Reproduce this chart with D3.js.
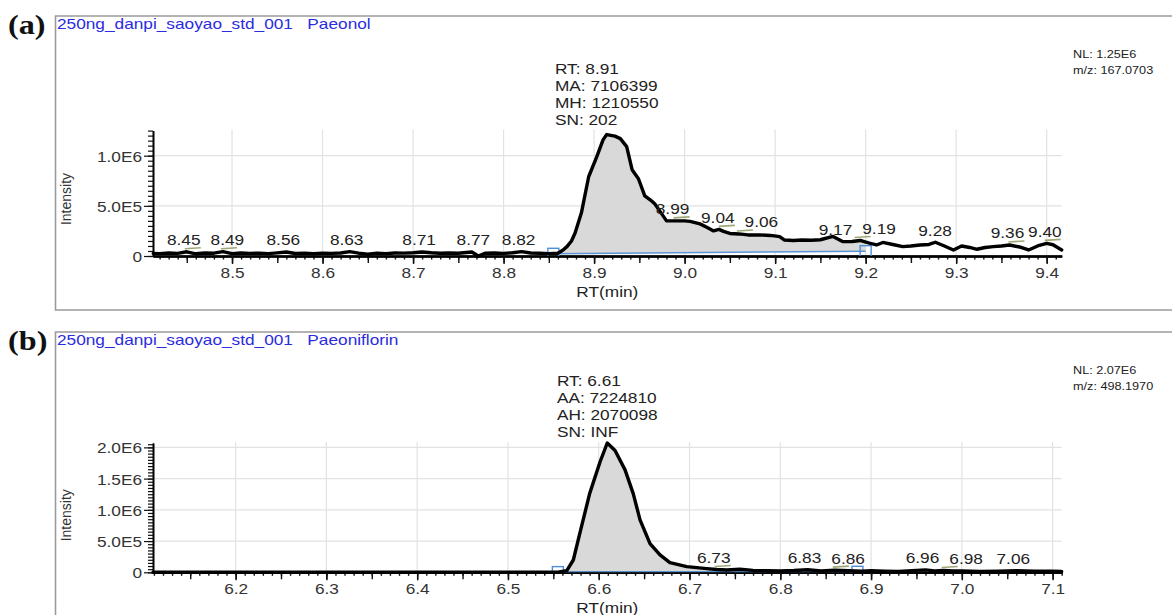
<!DOCTYPE html>
<html>
<head>
<meta charset="utf-8">
<script src="https://cdn.jsdelivr.net/npm/d3@7"></script>
<style>
  html, body { margin: 0; padding: 0; background: #fff; }
  svg { display: block; }
  text { font-family: "Liberation Sans", Arial, sans-serif; }
</style>
</head>
<body>
<svg id="chart" width="1172" height="615"></svg>
<script>
// ---- Paeonol chromatogram (m/z 167.0703) ----
const timesA = [8.413, 8.42, 8.43, 8.44, 8.45, 8.46, 8.47, 8.48, 8.49, 8.50, 8.51, 8.52, 8.53, 8.54, 8.55, 8.56,
  8.57, 8.58, 8.59, 8.60, 8.61, 8.62, 8.63, 8.64, 8.65, 8.66, 8.67, 8.68, 8.69, 8.70, 8.71, 8.72, 8.73, 8.74,
  8.75, 8.765, 8.772, 8.78, 8.79, 8.80, 8.81, 8.82, 8.83, 8.84, 8.85, 8.86, 8.865, 8.870, 8.875, 8.879, 8.886,
  8.894, 8.903, 8.910, 8.914, 8.923, 8.929, 8.936, 8.942, 8.949, 8.956, 8.962, 8.967, 8.974, 8.980, 8.99, 9.00,
  9.006, 9.017, 9.025, 9.032, 9.038, 9.043, 9.05, 9.06, 9.07, 9.083, 9.095, 9.105, 9.11, 9.12, 9.13, 9.14, 9.15,
  9.164, 9.175, 9.185, 9.194, 9.203, 9.212, 9.219, 9.23, 9.241, 9.25, 9.26, 9.27, 9.277, 9.287, 9.297, 9.306,
  9.315, 9.323, 9.332, 9.341, 9.35, 9.359, 9.37, 9.38, 9.39, 9.40, 9.407, 9.4166];
const intensA = [26e3, 24e3, 30e3, 26e3, 42e3, 22e3, 30e3, 28e3, 43e3, 24e3, 30e3, 26e3, 29e3, 24e3, 31e3, 40e3,
  25e3, 27e3, 22e3, 29e3, 26e3, 30e3, 43e3, 28e3, 18e3, 28e3, 24e3, 30e3, 29e3, 33e3, 40e3, 32e3, 27e3, 30e3,
  28e3, 40e3, 0, 28e3, 30e3, 26e3, 32e3, 43e3, 30e3, 28e3, 24e3, 28e3, 55e3, 93e3, 150e3, 230e3, 430e3,
  790e3, 990e3, 1160e3, 1210550, 1195e3, 1170e3, 1090e3, 860e3, 770e3, 600e3, 560e3, 520e3, 430e3, 350e3, 350e3, 350e3,
  345e3, 320e3, 285e3, 250e3, 265e3, 245e3, 225e3, 220e3, 210e3, 210e3, 205e3, 193e3, 160e3, 155e3, 160e3, 157e3, 162e3,
  195e3, 143e3, 145e3, 155e3, 130e3, 110e3, 135e3, 115e3, 93e3, 100e3, 110e3, 115e3, 137e3, 100e3, 60e3, 100e3,
  85e3, 67e3, 85e3, 93e3, 100e3, 110e3, 90e3, 60e3, 100e3, 126e3, 112e3, 60e3];
const peakLabelsA = [8.45, 8.49, 8.56, 8.63, 8.71, 8.77, 8.82, 8.99, 9.04, 9.06, 9.17, 9.19, 9.28, 9.36, 9.40];
const apexMarksA = [8.45, 8.49, 8.99, 9.04, 9.06, 9.19, 9.36, 9.40];
const annotA = ["RT: 8.91", "MA: 7106399", "MH: 1210550", "SN: 202"];
const apexA = 8.914;
const integA = [8.855, 9.200];
const integBaseA = [22e3, 48e3];
const xDomainA = [8.4127, 9.4166];
const xMajorA = [8.5, 8.6, 8.7, 8.8, 8.9, 9.0, 9.1, 9.2, 9.3, 9.4];
const yMaxA = 1.25e6;
const yMajorA = [0, 5e5, 1e6];
const headerA = ["250ng_danpi_saoyao_std_001", "Paeonol"];
const infoA = ["NL: 1.25E6", "m/z: 167.0703"];

// ---- Paeoniflorin chromatogram (m/z 498.1970) ----
const timesB = [6.109, 6.2, 6.3, 6.4, 6.5, 6.555, 6.5648, 6.572, 6.581, 6.590, 6.6015, 6.6094, 6.618, 6.629, 6.638,
  6.6455, 6.6565, 6.6675, 6.6784, 6.697, 6.719, 6.73, 6.741, 6.7555, 6.77, 6.785, 6.80, 6.815, 6.83, 6.845, 6.86,
  6.875, 6.89, 6.90, 6.915, 6.93, 6.945, 6.96, 6.97, 6.98, 6.99, 7.00, 7.02, 7.04, 7.06, 7.08, 7.10, 7.110];
const intensB = [2e3, 2e3, 2e3, 2e3, 2e3, 3e3, 26e3, 197e3, 730e3, 1260e3, 1770e3, 2070098, 1950e3, 1640e3, 1260e3,
  840e3, 460e3, 280e3, 154e3, 90e3, 58e3, 45e3, 37e3, 48e3, 30e3, 26e3, 22e3, 28e3, 40e3, 20e3, 35e3,
  26e3, 18e3, 24e3, 16e3, 12e3, 26e3, 38e3, 22e3, 30e3, 20e3, 22e3, 14e3, 18e3, 26e3, 16e3, 18e3, 14e3];
const peakLabelsB = [6.73, 6.83, 6.86, 6.96, 6.98, 7.06];
const apexMarksB = [6.73, 6.86, 6.98];
const annotB = ["RT: 6.61", "AA: 7224810", "AH: 2070098", "SN: INF"];
const apexB = 6.6094;
const integB = [6.555, 6.885];
const integBaseB = [3e3, 8e3];
const xDomainB = [6.109, 7.110];
const xMajorB = [6.2, 6.3, 6.4, 6.5, 6.6, 6.7, 6.8, 6.9, 7.0, 7.1];
const yMaxB = 2.07e6;
const yMajorB = [0, 5e5, 1e6, 1.5e6, 2e6];
const headerB = ["250ng_danpi_saoyao_std_001", "Paeoniflorin"];
const infoB = ["NL: 2.07E6", "m/z: 498.1970"];

// ---- drawing ----
const svg = d3.select("#chart");
const STRETCH = 1.15;   // the figure's lettering is set slightly wide

// widen glyphs horizontally; remember the resulting width on the node
function widen(sel) {
  sel.each(function () {
    const w = this.getComputedTextLength() * STRETCH;
    this.setAttribute("textLength", w);
    this.setAttribute("lengthAdjust", "spacingAndGlyphs");
    this.__wide = w;
  });
  return sel;
}

const fmtY = d => d === 0 ? "0" : d.toExponential(1).toUpperCase().replace("+", "");

function drawPanel(cfg, idx) {
  const { tag, times, intens, peakLabels, apexMarks, annot, apex, integ, integBase,
          xDomain, xMajor, yMax, yMajor, header, info, box } = cfg;
  const g = svg.append("g");
  const L = 153, R = 1061.7;
  const x = d3.scaleLinear().domain(xDomain).range([L, R]);
  const y = d3.scaleLinear().domain([0, yMax]).range([box.y0, box.yTop]);
  const pts = times.map((t, i) => ({ t, v: intens[i] }));

  // panel frame
  g.append("path")
    .attr("d", `M1180,${box.frameTop}H55.5V${box.frameBottom}H1180`)
    .attr("fill", "none").attr("stroke", "#9b9b9b").attr("stroke-width", 1.6);

  // panel tag and header
  widen(g.append("text").attr("x", 8).attr("y", box.frameTop + 18)
    .style("font-family", "'Liberation Serif', 'Times New Roman', serif")
    .attr("font-weight", "bold").attr("font-size", 28).attr("fill", "#111").text(tag));
  widen(g.append("text").attr("x", 57).attr("y", box.frameTop + 12.8)
    .attr("font-size", 15).attr("fill", "#2b2be0")
    .style("white-space", "pre")
    .text(header[0] + "   " + header[1]));

  // NL / m/z block
  info.forEach((s, i) => {
    widen(g.append("text").attr("x", 1073).attr("y", box.frameTop + 42.3 + i * 16)
      .attr("font-size", 11).attr("fill", "#222").text(s));
  });

  // grid
  const grid = g.append("g").attr("stroke", "#e2e2e2").attr("stroke-width", 1.2);
  grid.selectAll("line.v").data(xMajor).join("line")
    .attr("x1", d => x(d)).attr("x2", d => x(d)).attr("y1", box.y0).attr("y2", box.yTop - 1);
  grid.selectAll("line.h").data(yMajor.filter(d => d > 0)).join("line")
    .attr("x1", L).attr("x2", R).attr("y1", d => y(d)).attr("y2", d => y(d));

  // integrated area between trace and the drawn baseline
  const baseScale = d3.scaleLinear().domain(integ).range(integBase);
  const interp = t => {
    const i = d3.bisector(d => d).left(times, t);
    if (i <= 0) return intens[0];
    if (i >= times.length) return intens[times.length - 1];
    const a = pts[i - 1], b = pts[i];
    return a.v + (b.v - a.v) * (t - a.t) / (b.t - a.t);
  };
  const areaPts = [{ t: integ[0], v: interp(integ[0]) }]
    .concat(pts.filter(p => p.t > integ[0] && p.t < integ[1]))
    .concat([{ t: integ[1], v: interp(integ[1]) }]);
  g.append("path").datum(areaPts)
    .attr("d", d3.area().x(d => x(d.t)).y0(d => y(baseScale(d.t))).y1(d => y(Math.max(d.v, baseScale(d.t)))))
    .attr("fill", "#d9d9d9");

  // clipping for baseline markers
  const clipId = "clip" + idx;
  svg.append("clipPath").attr("id", clipId).append("rect")
    .attr("x", L - 10).attr("y", box.yTop - 20).attr("width", R - L + 20).attr("height", box.y0 - box.yTop + 20);

  // axes
  const xAxis = g.append("g").attr("transform", `translate(0,${box.y0})`);
  const minorX = d3.range(Math.ceil(xDomain[0] * 100), Math.floor(xDomain[1] * 100) + 1).map(k => k / 100);
  const midX = minorX.filter(t => Math.abs(Math.round(t * 100) % 5) === 0);
  xAxis.append("g").call(d3.axisBottom(x).tickValues(minorX).tickSize(3.5).tickSizeOuter(0).tickFormat(""));
  xAxis.append("g").call(d3.axisBottom(x).tickValues(midX).tickSize(7).tickSizeOuter(0).tickFormat(""));
  const xMain = xAxis.append("g").call(d3.axisBottom(x).tickValues(xMajor).tickSize(8).tickSizeOuter(0)
    .tickFormat(d3.format(".1f")));
  xAxis.selectAll(".domain").attr("stroke", "#000").attr("stroke-width", 2.2);
  xAxis.selectAll(".tick line").attr("stroke", "#111").attr("stroke-width", 1.4);
  xMain.attr("font-family", null);
  xMain.selectAll("text").attr("y", 22).attr("dy", null).attr("font-size", 15).attr("fill", "#333");
  widen(xMain.selectAll("text"));

  const yAxis = g.append("g").attr("transform", `translate(${L},0)`);
  const minorY = d3.range(0, yMax + 1, 5e4);
  yAxis.append("g").call(d3.axisLeft(y).tickValues(minorY).tickSize(5).tickSizeOuter(0).tickFormat(""));
  const yMain = yAxis.append("g").call(d3.axisLeft(y).tickValues(yMajor).tickSize(9).tickSizeOuter(0)
    .tickPadding(2).tickFormat(fmtY));
  yAxis.selectAll(".domain").attr("stroke", "#000").attr("stroke-width", 1.6);
  yAxis.selectAll(".tick line").attr("stroke", "#111").attr("stroke-width", 1.2);
  yMain.attr("font-family", null);
  yMain.selectAll("text").attr("font-size", 15).attr("fill", "#333").attr("dy", "0.36em");
  widen(yMain.selectAll("text"));

  // axis titles
  g.append("text").attr("transform", `translate(71,${box.y0 - 57}) rotate(-90)`)
    .attr("text-anchor", "middle").attr("font-size", 14).attr("fill", "#333").text("Intensity");
  widen(g.append("text").attr("x", (L + R) / 2).attr("y", box.y0 + 41)
    .attr("text-anchor", "middle").attr("font-size", 15).attr("fill", "#222").text("RT(min)"));

  // integration baseline with start / end markers
  const mk = g.append("g").attr("clip-path", `url(#${clipId})`);
  mk.append("line")
    .attr("x1", x(integ[0])).attr("y1", y(integBase[0])).attr("x2", x(integ[1])).attr("y2", y(integBase[1]))
    .attr("stroke", "#5b95d3").attr("stroke-width", 1.6);
  mk.selectAll("rect").data([0, 1]).join("rect")
    .attr("x", i => x(integ[i]) - 5.5).attr("y", i => y(integBase[i]) - 5.5)
    .attr("width", 11).attr("height", 11)
    .attr("fill", "none").attr("stroke", "#4f8fd6").attr("stroke-width", 1.4);

  // trace
  g.append("path").datum(pts)
    .attr("d", d3.line().x(d => x(d.t)).y(d => y(d.v)))
    .attr("fill", "none").attr("stroke", "#000").attr("stroke-width", 3.4)
    .attr("stroke-linejoin", "round").attr("stroke-linecap", "round");

  const localMax = t => d3.max(pts.filter(p => Math.abs(p.t - t) <= 0.006), p => p.v) ?? interp(t);

  // apex marks
  g.append("g").selectAll("line").data(apexMarks).join("line")
    .attr("x1", t => x(t) - 2).attr("x2", t => x(t) + 14)
    .attr("y1", t => y(localMax(t)) - 3).attr("y2", t => y(localMax(t)) - 4)
    .attr("stroke", "#8e9a5e").attr("stroke-width", 1.6).attr("opacity", 0.85);

  // peak retention time labels, nudged right when they would collide
  const lab = g.append("g");
  let prevRight = -Infinity;
  peakLabels.forEach(t => {
    const tx = lab.append("text").attr("font-size", 15).attr("fill", "#222")
      .attr("text-anchor", "middle").attr("y", y(localMax(t)) - 6.6).text(t.toFixed(2));
    widen(tx);
    const w = tx.node().__wide;
    let cx = x(t) - 3;
    if (cx - w / 2 < prevRight + 10) cx = prevRight + 10 + w / 2;
    if (cx + w / 2 > R) cx = R - w / 2;
    tx.attr("x", cx);
    prevRight = cx + w / 2;
  });

  // apex annotation block
  const ann = g.append("g");
  const lines = annot.map((s, i) => widen(ann.append("text").attr("font-size", 15).attr("fill", "#222")
    .attr("y", box.yTop - 6 - (annot.length - 1 - i) * 16.9).text(s)));
  const maxW = d3.max(lines, s => s.node().__wide);
  lines.forEach(s => s.attr("x", x(apex) - maxW / 2));
}

drawPanel({
  tag: "(a)", times: timesA, intens: intensA, peakLabels: peakLabelsA, apexMarks: apexMarksA,
  annot: annotA, apex: apexA, integ: integA, integBase: integBaseA, xDomain: xDomainA, xMajor: xMajorA,
  yMax: yMaxA, yMajor: yMajorA, header: headerA, info: infoA,
  box: { frameTop: 16, frameBottom: 310, y0: 256, yTop: 130.6 }
}, 0);

drawPanel({
  tag: "(b)", times: timesB, intens: intensB, peakLabels: peakLabelsB, apexMarks: apexMarksB,
  annot: annotB, apex: apexB, integ: integB, integBase: integBaseB, xDomain: xDomainB, xMajor: xMajorB,
  yMax: yMaxB, yMajor: yMajorB, header: headerB, info: infoB,
  box: { frameTop: 332, frameBottom: 650, y0: 572.3, yTop: 443 }
}, 1);
</script>
</body>
</html>
